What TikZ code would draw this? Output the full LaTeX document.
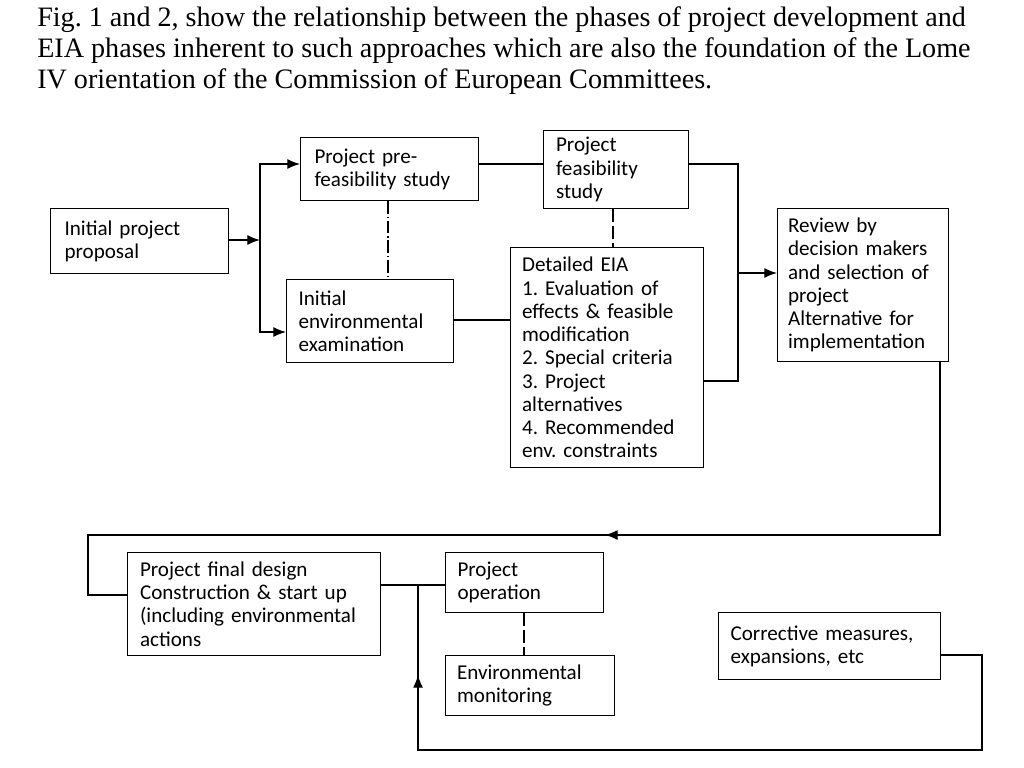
\documentclass[tikz,border=0pt]{standalone}
\usepackage{fontspec}
\setmainfont{Liberation Serif}
\newfontfamily\boxfont[WordSpace=0.75]{Carlito}
\usetikzlibrary{arrows.meta,positioning}

\begin{document}
\frenchspacing
\begin{tikzpicture}[x=0.025cm,y=-0.025cm,>={Latex[length=9pt,width=7pt]},
  phase/.style={draw,thick,rectangle,anchor=north west,align=left,
    inner sep=0pt,font=\boxfont\fontsize{15}{16.5}\selectfont},
  link/.style={thick},
  dashlink/.style={thick,dash pattern=on 9pt off 3pt}
]
\useasboundingbox (0,0) rectangle (1024,768);

% caption
\node[anchor=north west,align=left,inner sep=0pt,
  font=\fontsize{20}{22.3}\selectfont] (caption) at (37,6)
  {Fig. 1 and 2, show the relationship between the phases of project development and\\
   EIA phases inherent to such approaches which are also the foundation of the Lome\\
   IV orientation of the Commission of European Committees.};

% boxes
\node[phase,minimum width=178*0.025cm,minimum height=65*0.025cm,text width=150*0.025cm] (prop) at (50,208) {Initial project\\proposal\\[2pt]};
\node[phase,minimum width=178*0.025cm,minimum height=63*0.025cm,text width=150*0.025cm] (pre) at (300,137) {Project pre-\\feasibility study};
\node[phase,minimum width=145*0.025cm,minimum height=78*0.025cm,text width=120*0.025cm] (feas) at (543,130) {Project\\feasibility\\study};
\node[phase,minimum width=167*0.025cm,minimum height=83*0.025cm,text width=143*0.025cm] (iee) at (286,279) {Initial\\environmental\\examination};
\node[phase,minimum width=193*0.025cm,minimum height=220*0.025cm,text width=170*0.025cm] (eia) at (510,247)
  {Detailed EIA\\1. Evaluation of\\effects \& feasible\\modification\\2. Special criteria\\3. Project\\alternatives\\4. Recommended\\env. constraints};
\node[phase,minimum width=171*0.025cm,minimum height=153*0.025cm,text width=150*0.025cm] (rev) at (777,208)
  {Review by\\decision makers\\and selection of\\project\\Alternative for\\implementation};
\node[phase,minimum width=253*0.025cm,minimum height=103*0.025cm,text width=228*0.025cm] (final) at (127,552)
  {Project final design\\Construction \& start up\\(including environmental\\actions};
\node[phase,minimum width=158*0.025cm,minimum height=60*0.025cm,text width=134*0.025cm] (oper) at (445,552) {Project\\operation};
\node[phase,minimum width=169*0.025cm,minimum height=60*0.025cm,text width=146*0.025cm] (mon) at (445,655) {Environmental\\monitoring};
\node[phase,minimum width=222*0.025cm,minimum height=67*0.025cm,text width=198*0.025cm] (corr) at (718,612) {Corrective measures,\\expansions, etc\\[8pt]};

% junction points
\coordinate (split) at (260,240);
\coordinate (merge) at (738,273);
\coordinate (back) at (418,585);

% connectors
\draw[link,->] (prop.east |- split) -- (split);
\draw[link,->] (split) |- (pre.west |- 0,164);
\draw[link,->] (split) |- (iee.west |- 0,332);
\draw[link] (pre.east |- 0,164) -- (feas.west |- 0,164);
\draw[link] (feas.east |- 0,164) -| (merge) |- (eia.east |- 0,381);
\draw[link,->] (merge) -- (rev.west |- merge);
\draw[thick,dash pattern=on 9pt off 2pt on 1pt off 2pt] (pre.south -| 388,0) -- (iee.north -| 388,0);
\draw[dashlink] (feas.south -| 613,0) -- (eia.north -| 613,0);
\draw[link] (iee.east |- 0,320) -- (eia.west |- 0,320);
\draw[link] (rev.south -| 940,0) -- (940,535) -- (88,535) -- (88,595) -- (final.west |- 0,595);
\draw[link,->] (940,535) -- (605,535);
\draw[link] (final.east |- back) -- (oper.west |- back);
\draw[dashlink] (oper.south -| 524,0) -- (mon.north -| 524,0);
\draw[link] (corr.east |- 0,655) -- (982,655) -- (982,750) -- (418,750) -- (back);
\draw[link,->] (418,750) -- (418,675);
\end{tikzpicture}
\end{document}
